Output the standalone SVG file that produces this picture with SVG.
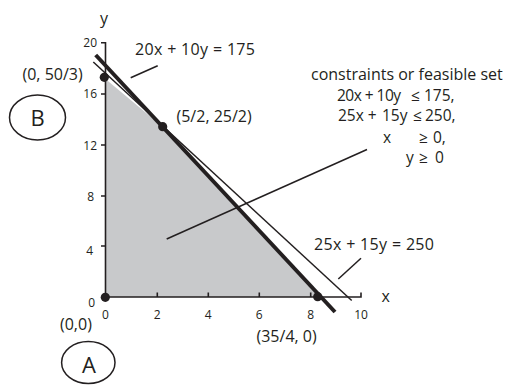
<svg xmlns="http://www.w3.org/2000/svg" width="506" height="385" viewBox="0 0 506 385">
<style>
text{font-family:"Open Sans","Liberation Sans",sans-serif;fill:#231f20}
.lbl{font-size:16px}
.eq{font-size:15.5px}
.tk{font-size:12px}
.big{font-size:22px}
.ax{stroke:#231f20;stroke-width:1.6;fill:none}
.thin{stroke:#231f20;stroke-width:1.5;fill:none}
.thick{stroke:#231f20;stroke-width:4;fill:none}
.dot{fill:#231f20}
.circ{fill:none;stroke:#231f20;stroke-width:1.5}
</style>
<g id="feasible-region">
<polygon points="105.5,297 105.5,79 162.7,126.7 320,297" fill="#c8c9cb"/>
</g>
<g id="axes">
<path class="ax" d="M105.5,42 V297 H361 V292.5"/>
<path class="ax" d="M101,42.7 H105.5 M101,94 H105.5 M101,145 H105.5 M101,196 H105.5 M101,246 H105.5 M157.3,297 V292.5 M208.3,297 V292.5 M259.3,297 V292.5 M310.7,297 V292.5"/>
<text class="lbl" x="100" y="23.5">y</text>
<text class="lbl" x="381.5" y="301.5">x</text>
<g class="tk">
<text x="97" y="47" text-anchor="end">20</text>
<text x="97" y="98" text-anchor="end">16</text>
<text x="97" y="150" text-anchor="end">12</text>
<text x="94" y="201" text-anchor="end">8</text>
<text x="93" y="255" text-anchor="end">4</text>
<text x="95" y="307" text-anchor="end">0</text>
<text x="105.5" y="319" text-anchor="middle">0</text>
<text x="157.3" y="319" text-anchor="middle">2</text>
<text x="208.3" y="319" text-anchor="middle">4</text>
<text x="259.3" y="319" text-anchor="middle">6</text>
<text x="310.7" y="319" text-anchor="middle">8</text>
<text x="361" y="319" text-anchor="middle">10</text>
</g>
</g>
<g id="connectors">
<line class="thin" x1="93.3" y1="62" x2="351.7" y2="300.5"/>
<line class="thick" x1="95.7" y1="55" x2="335" y2="312"/>
<line class="thin" x1="130.7" y1="77.7" x2="157.7" y2="65.7"/>
<line class="thin" x1="338.3" y1="279" x2="361" y2="258.3"/>
<line class="thin" x1="166.7" y1="239" x2="367" y2="149.5"/>
</g>
<g id="vertex-0-50-3">
<circle class="dot" cx="104.3" cy="77.3" r="4.6"/>
<text class="lbl" x="22.5" y="80">(0, 50/3)</text>
</g>
<g id="vertex-5-2-25-2">
<circle class="dot" cx="162.7" cy="126.7" r="4.6"/>
<text class="lbl" x="176.5" y="122">(5/2, 25/2)</text>
</g>
<g id="vertex-35-4-0">
<circle class="dot" cx="317.7" cy="296.7" r="4.6"/>
<text class="lbl" x="256.5" y="342">(35/4, 0)</text>
</g>
<g id="vertex-0-0">
<circle class="dot" cx="105.3" cy="297.3" r="4.6"/>
<text class="lbl" x="60" y="330">(0,0)</text>
</g>
<g id="label-line1">
<text class="lbl" x="135" y="55" textLength="120">20x + 10y = 175</text>
</g>
<g id="label-line2">
<text class="lbl" x="314" y="250" textLength="120">25x + 15y = 250</text>
</g>
<g id="constraints">
<text class="lbl" x="311" y="80">constraints or feasible set</text>
<text class="eq" x="337" y="101" textLength="64">20x + 10y</text>
<text class="eq" x="411" y="101">≤</text>
<text class="eq" x="424" y="101">175,</text>
<text class="eq" x="338" y="121">25x +</text>
<text class="eq" x="382" y="121">15y</text>
<text class="eq" x="413" y="121">≤</text>
<text class="eq" x="425" y="121">250,</text>
<text class="eq" x="383" y="142.5">x</text>
<text class="eq" x="419" y="142.5">≥</text>
<text class="eq" x="433" y="142.5">0,</text>
<text class="eq" x="406" y="163">y</text>
<text class="eq" x="419" y="163">≥</text>
<text class="eq" x="435" y="163">0</text>
</g>
<g id="node-B">
<ellipse class="circ" cx="37.5" cy="117.5" rx="28" ry="22.5"/>
<text class="big" x="37.5" y="125.5" text-anchor="middle">B</text>
</g>
<g id="node-A">
<ellipse class="circ" cx="88.3" cy="362.5" rx="26.7" ry="21"/>
<text class="big" x="89" y="373" text-anchor="middle">A</text>
</g>
</svg>
